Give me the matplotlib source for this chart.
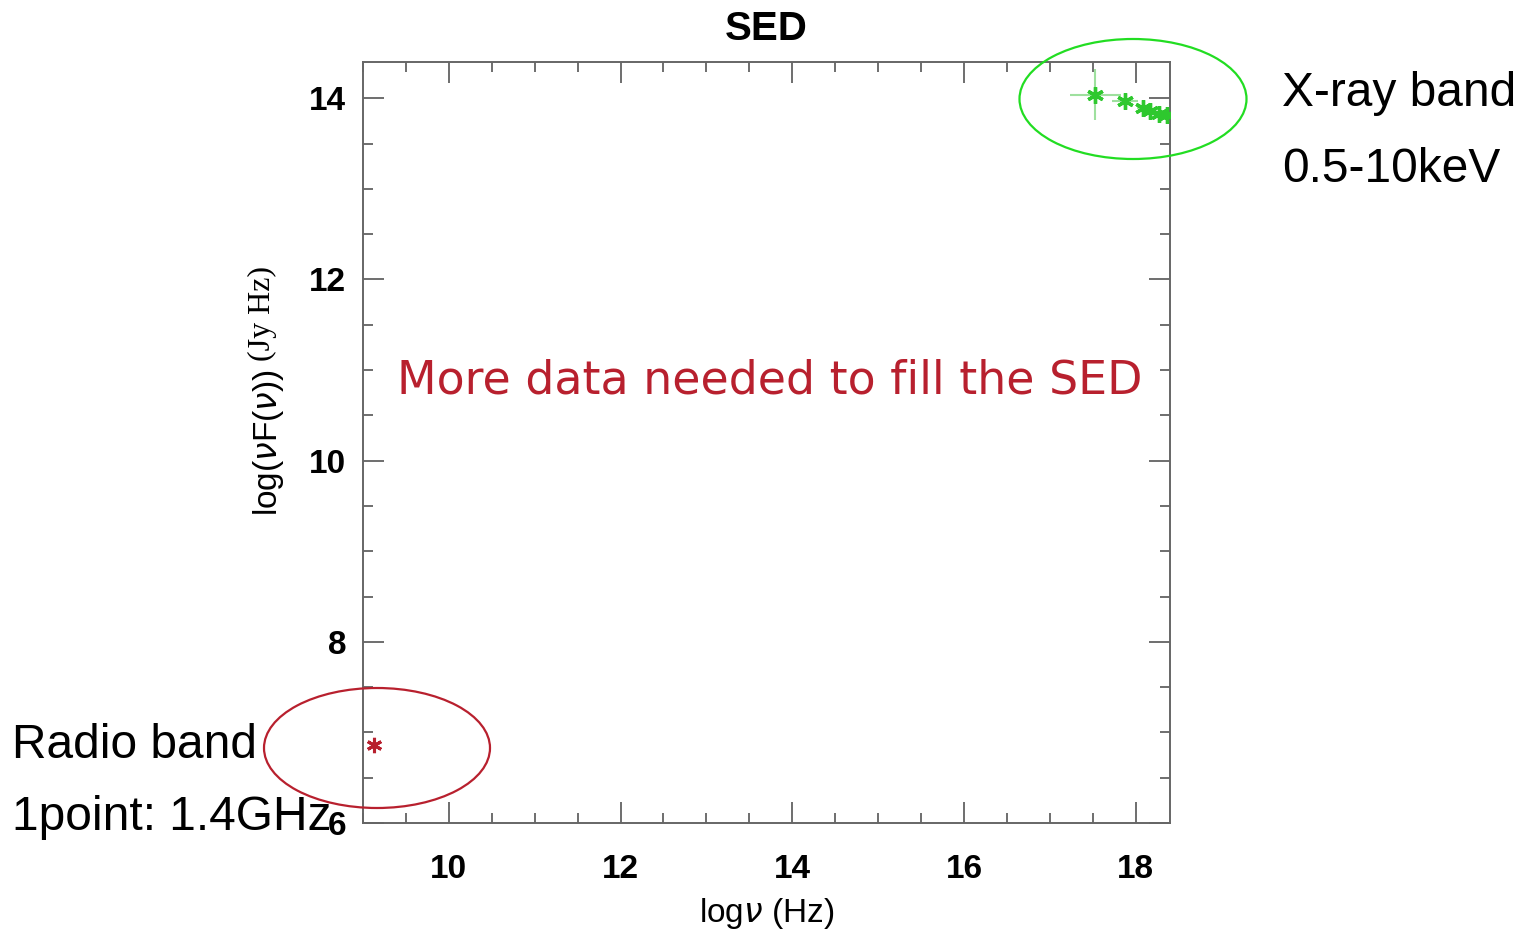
import matplotlib.pyplot as plt
from matplotlib.patches import Ellipse
from matplotlib.ticker import MultipleLocator

plt.rcParams['font.family'] = ['Liberation Sans', 'DejaVu Sans']

# radio point (1.4 GHz)
radio_lognu = [9.13]
radio_lognuFnu = [6.86]

# X-ray points, 0.5-10 keV
xray_lognu = [17.53, 17.88, 18.08, 18.17, 18.27, 18.36]
xray_lognuFnu = [14.04, 13.97, 13.89, 13.86, 13.83, 13.82]
xray_xerr = [0.30, 0.15, 0.06, 0.05, 0.05, 0.04]
xray_yerr = [0.28, 0.06, 0.04, 0.03, 0.03, 0.03]

xticks = [10, 12, 14, 16, 18]
yticks = [6, 8, 10, 12, 14]

fig = plt.figure(figsize=(15.26, 9.33), dpi=100)
ax = fig.add_axes([0.2379, 0.1179, 0.5288, 0.8156])

red = '#b8202e'
green = '#2ec82e'

ax.errorbar(xray_lognu, xray_lognuFnu, xerr=xray_xerr, yerr=xray_yerr,
            fmt='none', ecolor='#9ee09e', elinewidth=1.5, zorder=2)
ax.plot(xray_lognu, xray_lognuFnu, linestyle='none', marker=(6, 2, 0),
        markersize=12, markeredgewidth=2.4, color=green, zorder=3)
ax.plot(radio_lognu, radio_lognuFnu, linestyle='none', marker=(6, 2, 0),
        markersize=11, markeredgewidth=2.2, color=red, zorder=3)

ax.set_xlim(9, 18.4)
ax.set_ylim(6, 14.4)
ax.set_xticks(xticks)
ax.set_yticks(yticks)
ax.xaxis.set_minor_locator(MultipleLocator(0.5))
ax.yaxis.set_minor_locator(MultipleLocator(0.5))
ax.tick_params(which='both', direction='in', top=True, right=True,
               color='#555555', width=1.2)
ax.tick_params(which='major', length=15, labelsize=24)
ax.tick_params(axis='x', which='major', pad=22)
ax.tick_params(axis='y', which='major', pad=12)
ax.tick_params(which='minor', length=7)
for lab in ax.get_xticklabels() + ax.get_yticklabels():
    lab.set_fontweight('bold')
for s in ax.spines.values():
    s.set_color('#666666')
    s.set_linewidth(1.4)

ax.set_title('SED', fontsize=29, fontweight='bold', pad=16)
ax.set_xlabel('log$\\nu$ (Hz)', fontsize=24, labelpad=8)

# y label: sans part plus serif units
fig.text(0.1757, 0.526, 'log($\\nu$F($\\nu$))', rotation=90, fontsize=24,
         ha='center', va='center')
fig.text(0.1717, 0.664, '(Jy Hz)', rotation=90, fontsize=23,
         family='Liberation Serif', ha='center', va='center')

ax.text(0.504, 0.581, 'More data needed to fill the SED', transform=ax.transAxes,
        fontsize=33, color=red, ha='center', va='center',
        family='DejaVu Sans')

# band annotations
fig.patches.append(Ellipse((1133 / 1526, 1 - 99 / 933), 227 / 1526, 120 / 933,
                           transform=fig.transFigure, fill=False,
                           edgecolor='#22dd22', linewidth=1.6))
fig.patches.append(Ellipse((377 / 1526, 1 - 748 / 933), 226 / 1526, 120 / 933,
                           transform=fig.transFigure, fill=False,
                           edgecolor=red, linewidth=1.6))

fig.text(1282 / 1526, 1 - 93 / 933, 'X-ray band', fontsize=34.5,
         ha='left', va='center')
fig.text(1282 / 1526, 1 - 170 / 933, '0.5-10keV', fontsize=34.5,
         ha='left', va='center')
fig.text(12 / 1526, 1 - 745 / 933, 'Radio band', fontsize=34.5,
         ha='left', va='center')
fig.text(12 / 1526, 1 - 818 / 933, '1point: 1.4GHz', fontsize=34.5,
         ha='left', va='center')

fig.savefig('out.png', dpi=100, facecolor='white')
